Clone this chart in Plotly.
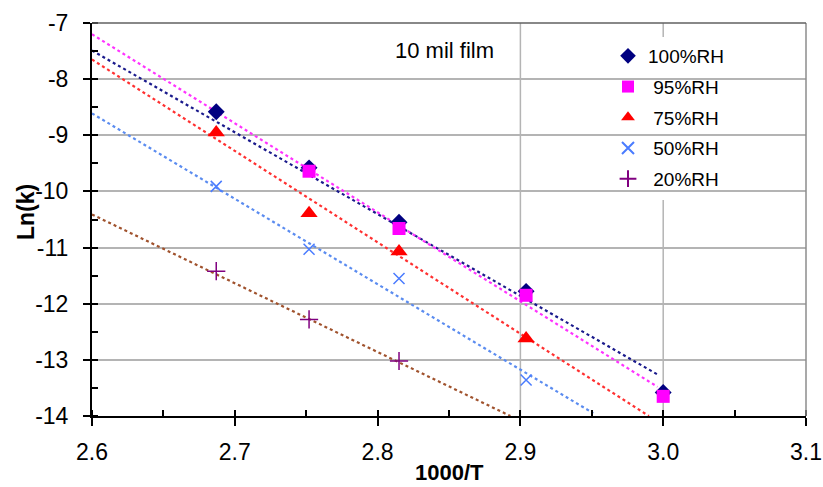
import plotly.graph_objects as go

# ---- data ----
rh100_x = [2.687, 2.752, 2.815, 2.904, 3.000]
rh100_y = [-8.58, -9.58, -10.55, -11.78, -13.58]

rh95_x = [2.752, 2.815, 2.904, 3.000]
rh95_y = [-9.64, -10.66, -11.85, -13.65]

rh75_x = [2.687, 2.752, 2.815, 2.904]
rh75_y = [-8.95, -10.39, -11.07, -12.62]

rh50_x = [2.687, 2.752, 2.815, 2.904]
rh50_y = [-9.91, -11.03, -11.55, -13.36]

rh20_x = [2.687, 2.752, 2.815]
rh20_y = [-11.42, -12.28, -13.02]

# trendline end points
tr100_x = [2.6, 2.996]; tr100_y = [-7.49, -13.26]
tr95_x = [2.6, 2.996];  tr95_y = [-7.20, -13.48]
tr75_x = [2.6, 2.99];   tr75_y = [-7.65, -14.0]
tr50_x = [2.6, 2.951];  tr50_y = [-8.61, -13.95]
tr20_x = [2.6, 2.893];  tr20_y = [-10.41, -14.0]

x_ticks = [2.6, 2.7, 2.8, 2.9, 3.0, 3.1]
x_ticktext = ["2.6", "2.7", "2.8", "2.9", "3.0", "3.1"]
y_ticks = [-7, -8, -9, -10, -11, -12, -13, -14]
y_ticktext = ["-7", "-8", "-9", "-10", "-11", "-12", "-13", "-14"]
vgrid_x = [2.9, 3.0]

FONT = "Liberation Sans, Arial, sans-serif"
L, R, T, B = 92, 17, 23, 71
PW, PH = 823 - L - R, 487 - T - B


def px_x(p):
    return (p - L) / PW


def px_y(p):
    return 1 - (p - T) / PH


fig = go.Figure()

trend_specs = [
    (tr100_x, tr100_y, "#1a1a8c"),
    (tr95_x, tr95_y, "#ff33ff"),
    (tr75_x, tr75_y, "#ff3030"),
    (tr50_x, tr50_y, "#5b8cf0"),
    (tr20_x, tr20_y, "#a0522d"),
]
for tx, ty, c in trend_specs:
    fig.add_trace(go.Scatter(x=tx, y=ty, mode="lines", showlegend=False,
                             line=dict(color=c, width=2.2, dash="dot"),
                             hoverinfo="skip"))

series = [
    ("100%RH", rh100_x, rh100_y, "diamond", "#000080", 13, None),
    ("\u00a095%RH", rh95_x, rh95_y, "square", "#ff00ff", 13, None),
    ("\u00a075%RH", rh75_x, rh75_y, "triangle-up", "#ff0000", 15, None),
    ("\u00a050%RH", rh50_x, rh50_y, "x-thin", "#4a7cff", 11, 1.5),
    ("\u00a020%RH", rh20_x, rh20_y, "cross-thin", "#800080", 13, 1.5),
]
for i, (name, sx, sy, sym, c, sz, lw) in enumerate(series):
    mk = dict(symbol=sym, color=c, size=sz)
    if lw:
        mk["line"] = dict(color=c, width=lw)
    else:
        mk["line"] = dict(width=0)
    fig.add_trace(go.Scatter(x=sx, y=sy, mode="markers", name=name,
                             marker=mk, legendgroup=f"g{i}"))

shapes = []
for gx in vgrid_x:
    shapes.append(dict(type="line", xref="x", yref="paper", x0=gx, x1=gx,
                       y0=0, y1=1, line=dict(color="#b4b4b4", width=1.5),
                       layer="below"))
# legend background box (covers gridlines)
shapes.append(dict(type="rect", xref="paper", yref="paper",
                   x0=px_x(577), x1=px_x(766), y0=px_y(200), y1=px_y(37),
                   fillcolor="white", line=dict(width=0), layer="between"))
# right and top frame
shapes.append(dict(type="line", xref="paper", yref="paper", x0=1, x1=1, y0=0, y1=1,
                   line=dict(color="#8c8c8c", width=1.5)))
shapes.append(dict(type="line", xref="paper", yref="paper", x0=0, x1=1, y0=1, y1=1,
                   line=dict(color="#606060", width=1.5)))

fig.update_layout(
    width=823, height=487,
    margin=dict(l=L, r=R, t=T, b=B),
    paper_bgcolor="white", plot_bgcolor="white",
    font=dict(family=FONT, size=23, color="black"),
    shapes=shapes,
    showlegend=True,
    legend=dict(x=px_x(608), y=px_y(37),
                xanchor="left", yanchor="top",
                bgcolor="rgba(0,0,0,0)", borderwidth=0,
                font=dict(family=FONT, size=19, color="black"),
                tracegroupgap=3, itemsizing="constant"),
    annotations=[
        dict(text="10 mil film", xref="paper", yref="paper",
             x=px_x(444), y=px_y(51), xanchor="center", yanchor="middle",
             showarrow=False, font=dict(family=FONT, size=22, color="black")),
        dict(text="<b>Ln(k)</b>", xref="paper", yref="paper",
             x=px_x(26), y=px_y(212), xanchor="center", yanchor="middle",
             textangle=-90, showarrow=False,
             font=dict(family=FONT, size=23, color="black")),
        dict(text="<b>1000/T</b>", xref="paper", yref="paper",
             x=px_x(449), y=px_y(472), xanchor="center", yanchor="middle",
             showarrow=False, font=dict(family=FONT, size=22, color="black")),
    ],
)

fig.update_xaxes(range=[2.6, 3.1], tickvals=x_ticks, ticktext=x_ticktext,
                 showgrid=False, zeroline=False,
                 showline=True, linecolor="black", linewidth=2,
                 ticks="outside", ticklen=8, tickwidth=1.5, tickcolor="black",
                 minor=dict(dtick=0.05, ticks="inside", ticklen=6, tickwidth=1.5,
                            tickcolor="black", showgrid=False),
                 tickfont=dict(family=FONT, size=23),
                 ticklabelstandoff=6,
                 automargin=False)
fig.update_yaxes(range=[-14, -7], tickvals=y_ticks, ticktext=y_ticktext,
                 showgrid=True, gridcolor="#b4b4b4", gridwidth=1.5,
                 zeroline=False,
                 showline=True, linecolor="black", linewidth=2,
                 ticks="outside", ticklen=7, tickwidth=1.5, tickcolor="black",
                 minor=dict(dtick=0.5, ticks="inside", ticklen=6, tickwidth=1.5,
                            tickcolor="black", showgrid=False),
                 tickfont=dict(family=FONT, size=23),
                 ticklabelstandoff=10,
                 automargin=False)

fig.write_html("out.html")
